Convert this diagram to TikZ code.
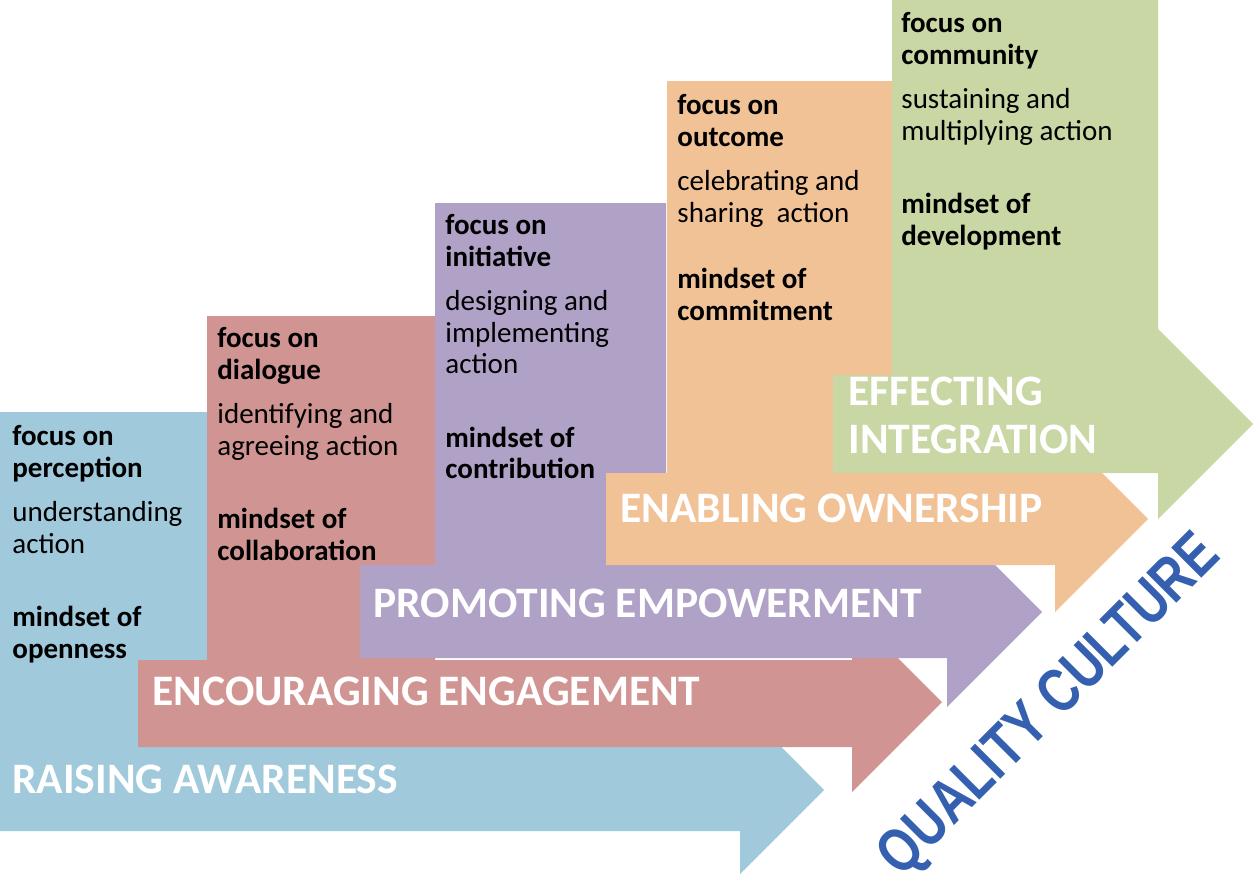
\documentclass[tikz,border=0pt]{standalone}
\usepackage{fontspec}
\setmainfont{Carlito}
\newfontfamily\wordartfont{Liberation Sans}
\usepackage{graphicx}
\usepackage{tikz}
\usepackage{xcolor}
\definecolor{awareblue}{HTML}{A0CADB}
\definecolor{engagered}{HTML}{D09593}
\definecolor{empowerpurple}{HTML}{B0A1C6}
\definecolor{ownorange}{HTML}{F2C297}
\definecolor{integgreen}{HTML}{C8D7A4}
\definecolor{culture}{HTML}{3560B0}

\begin{document}
\begin{tikzpicture}[x=0.5pt, y=-0.5pt,
        stagetext/.style={anchor=north west, align=left, inner sep=0pt, font=\fontsize{14.5}{15.75}\selectfont},
        heading/.style={anchor=base west, inner sep=0pt, text=white, font=\fontsize{21.75}{24}\selectfont\bfseries}]
        \useasboundingbox (0,0) rectangle (1256,874);

        % the five bent arrows, lowest first
        \fill[awareblue] (0,412) -- (207,412) -- (207,747) -- (740,747) -- (740,705) -- (824,790)
            -- (740,874) -- (740,831) -- (0,831) -- cycle;
        \fill[engagered] (207,316) -- (435,316) -- (435,660) -- (852,660) -- (852,612) -- (942,702)
            -- (852,792) -- (852,747) -- (138,747) -- (138,660) -- (207,660) -- cycle;
        \fill[empowerpurple] (435,203) -- (666,203) -- (666,565) -- (947,565) -- (947,517) -- (1042,612)
            -- (947,707) -- (947,658) -- (360,658) -- (360,565) -- (435,565) -- cycle;
        \fill[ownorange] (667,81) -- (892,81) -- (892,473) -- (1055,473) -- (1055,426) -- (1148,519)
            -- (1055,612) -- (1055,565) -- (606,565) -- (606,473) -- (667,473) -- cycle;
        \fill[integgreen] (892,0) -- (1158,0) -- (1158,329) -- (1253,424) -- (1158,519)
            -- (1158,473) -- (833,473) -- (833,375) -- (892,375) -- cycle;

        \node[stagetext] (perception) at (12,425) {\textbf{focus on}\\\textbf{perception}\\[6.5pt]understanding\\action\\[21pt]\textbf{mindset of}\\\textbf{openness}};
        \node[stagetext] (dialogue) at (217,327) {\textbf{focus on}\\\textbf{dialogue}\\[6.5pt]identifying and\\agreeing action\\[21pt]\textbf{mindset of}\\\textbf{collaboration}};
        \node[stagetext] (initiative) at (445,214) {\textbf{focus on}\\\textbf{initiative}\\[6.5pt]designing and\\implementing\\action\\[21pt]\textbf{mindset of}\\\textbf{contribution}};
        \node[stagetext] (outcome) at (677,94) {\textbf{focus on}\\\textbf{outcome}\\[6.5pt]celebrating and\\sharing\ \ action\\[17.5pt]\textbf{mindset of}\\\textbf{commitment}};
        \node[stagetext] (community) at (901,12) {\textbf{focus on}\\\textbf{community}\\[6.5pt]sustaining and\\multiplying action\\[21pt]\textbf{mindset of}\\\textbf{development}};

        \node[heading] (awareness) at (12,793) {RAISING AWARENESS};
        \node[heading] (engagement) at (152,705) {ENCOURAGING ENGAGEMENT};
        \node[heading] (empowerment) at (373,617) {PROMOTING EMPOWERMENT};
        \node[heading] (ownership) at (620,522) {ENABLING OWNERSHIP};
        \node[heading, anchor=north west, align=left] (integration) at (848,377) {EFFECTING\\INTEGRATION};

        \node[rotate=45, inner sep=0pt, text=culture, font=\wordartfont\bfseries\fontsize{31}{31}\selectfont] (quality) at (1051,707) {\scalebox{0.78}[1]{QUALITY CULTURE}};
\end{tikzpicture}
\end{document}
